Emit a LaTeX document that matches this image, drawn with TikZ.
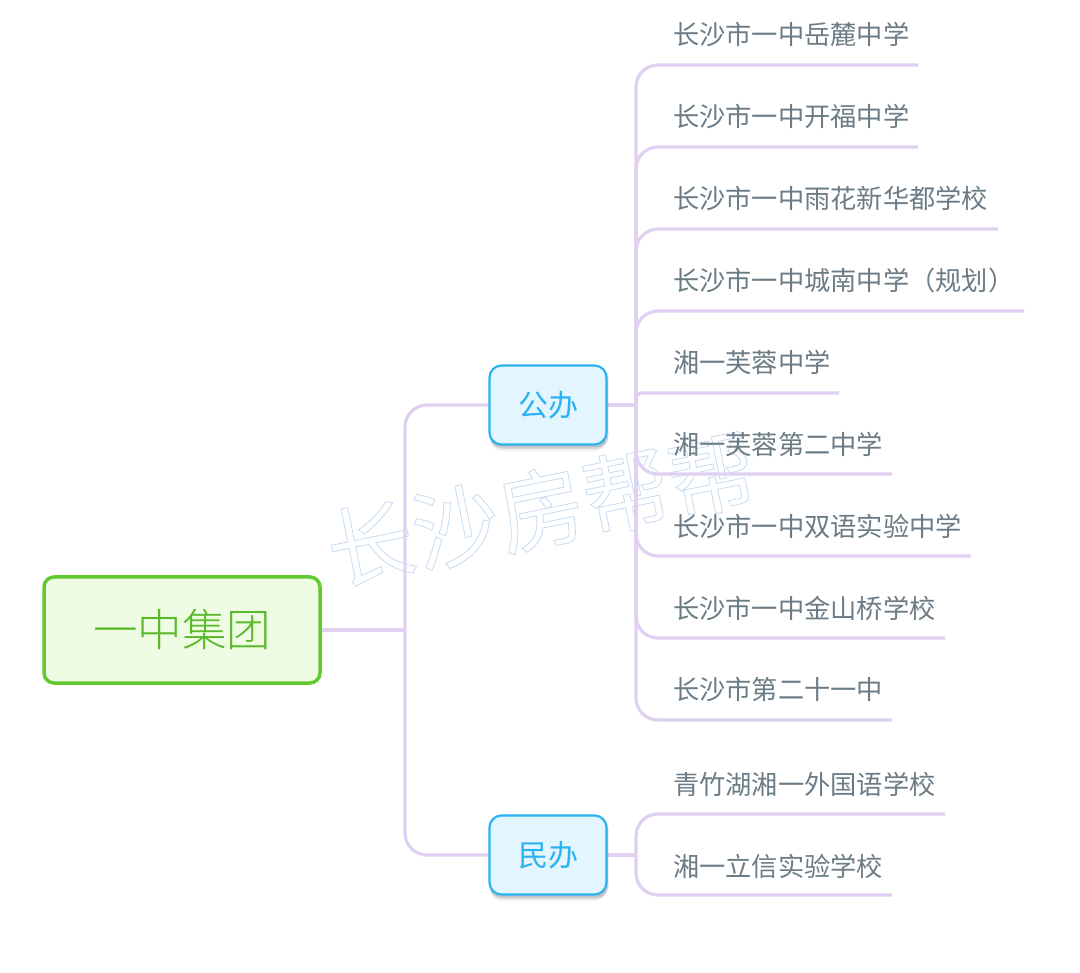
\documentclass[tikz,border=0pt]{standalone}
\usepackage{fontspec}
\setmainfont{Noto Sans CJK SC}
\newfontfamily\thinfont{Noto Sans CJK SC Light}
\usetikzlibrary{shadows}
\definecolor{branchcol}{HTML}{E0D0F2}
\definecolor{leafcol}{HTML}{6C7C86}
\definecolor{rootline}{HTML}{62C92E}
\definecolor{rootfill}{HTML}{EFFCE4}
\definecolor{subline}{HTML}{2BB2F0}
\definecolor{subfill}{HTML}{E3F5FE}
\tikzset{
  rootbox/.style={draw=rootline, fill=rootfill, line width=3.5pt, rounded corners=10pt, minimum width=276pt, minimum height=106pt, text=rootline!92!black, font=\thinfont\fontsize{44.5}{44.5}\selectfont, inner sep=0pt},
  subbox/.style={draw=subline, fill=subfill, line width=2.2pt, rounded corners=12pt, minimum width=117pt, minimum height=79pt, text=subline, font=\fontsize{30}{30}\selectfont, inner sep=0pt,
    drop shadow={shadow xshift=0pt, shadow yshift=-7pt, shadow scale=0.99, opacity=0.06, fill=black},
    drop shadow={shadow xshift=1pt, shadow yshift=-4pt, shadow scale=1.01, opacity=0.1, fill=black},
    drop shadow={shadow xshift=1pt, shadow yshift=-2pt, shadow scale=1.02, opacity=0.1, fill=black}},
  leaf/.style={anchor=west, text=leafcol, font=\fontsize{26.25}{26.25}\selectfont, inner sep=0pt},
  branch/.style={draw=branchcol, line width=3.2pt, rounded corners=22pt},
  wmark/.style={rotate=11.5, font=\fontsize{87}{87}\selectfont, inner sep=0pt}
}
\begin{document}
\begin{tikzpicture}[x=1pt, y=-1pt]
  \useasboundingbox (0,0) rectangle (1080,973);
  \fill[white] (0,0) rectangle (1080,973);
  % Watermark, outlined letters
  \node[wmark] (mark) at (541,509) {\special{pdf:code q 1 Tr 0.8 w 0.78 0.86 0.94 RG}长沙房帮帮\special{pdf:code Q}};
  % Joints on the two trunks
  \coordinate (j0) at (405,630);
  \coordinate (j1) at (636,405);
  \coordinate (j2) at (636,855);
  % Free ends of the underlines
  \coordinate (e1) at (918,65);
  \coordinate (e2) at (918,147);
  \coordinate (e3) at (998,229);
  \coordinate (e4) at (1024,311);
  \coordinate (e5) at (839,393);
  \coordinate (e6) at (892,474);
  \coordinate (e7) at (971,556);
  \coordinate (e8) at (945,638);
  \coordinate (e9) at (892,720);
  \coordinate (e10) at (945,814);
  \coordinate (e11) at (892,895);
  % Draw the branches first, the boxes sit on them
  \coordinate (g) at (489,405);
  \coordinate (m) at (489,855);
  \coordinate (r) at (321,630);
  \draw[branch] (r) -- (j0);
  \draw[branch] (j0) |- (g);
  \draw[branch] (j0) |- (m);
  \draw[branch] (607,405) -- (j1);
  \draw[branch] (607,855) -- (j2);
  \draw[branch] (j1) |- (e1);
  \draw[branch] (j1) |- (e2);
  \draw[branch] (j1) |- (e3);
  \draw[branch] (j1) |- (e4);
  \draw[branch, rounded corners=6pt] (j1) |- (e5);
  \draw[branch] (j1) |- (e6);
  \draw[branch] (j1) |- (e7);
  \draw[branch] (j1) |- (e8);
  \draw[branch] (j1) |- (e9);
  \draw[branch] (j2) |- (e10);
  \draw[branch] (j2) |- (e11);
  \node[rootbox] (root) at (182,630) {\raisebox{-2pt}{一中集团}};
  \node[subbox] (gongban) at (548,405) {公办};
  \node[subbox] (minban) at (548,855) {民办};
  \node[leaf] (s1) at (673,35) {长沙市一中岳麓中学};
  \node[leaf] (s2) at (673,117) {长沙市一中开福中学};
  \node[leaf] (s3) at (673,199) {长沙市一中雨花新华都学校};
  \node[leaf] (s4) at (673,281) {长沙市一中城南中学（规划）};
  \node[leaf] (s5) at (673,362) {湘一芙蓉中学};
  \node[leaf] (s6) at (673,444) {湘一芙蓉第二中学};
  \node[leaf] (s7) at (673,526) {长沙市一中双语实验中学};
  \node[leaf] (s8) at (673,608) {长沙市一中金山桥学校};
  \node[leaf] (s9) at (673,690) {长沙市第二十一中};
  \node[leaf] (s10) at (673,784) {青竹湖湘一外国语学校};
  \node[leaf] (s11) at (673,866) {湘一立信实验学校};
\end{tikzpicture}
\end{document}
